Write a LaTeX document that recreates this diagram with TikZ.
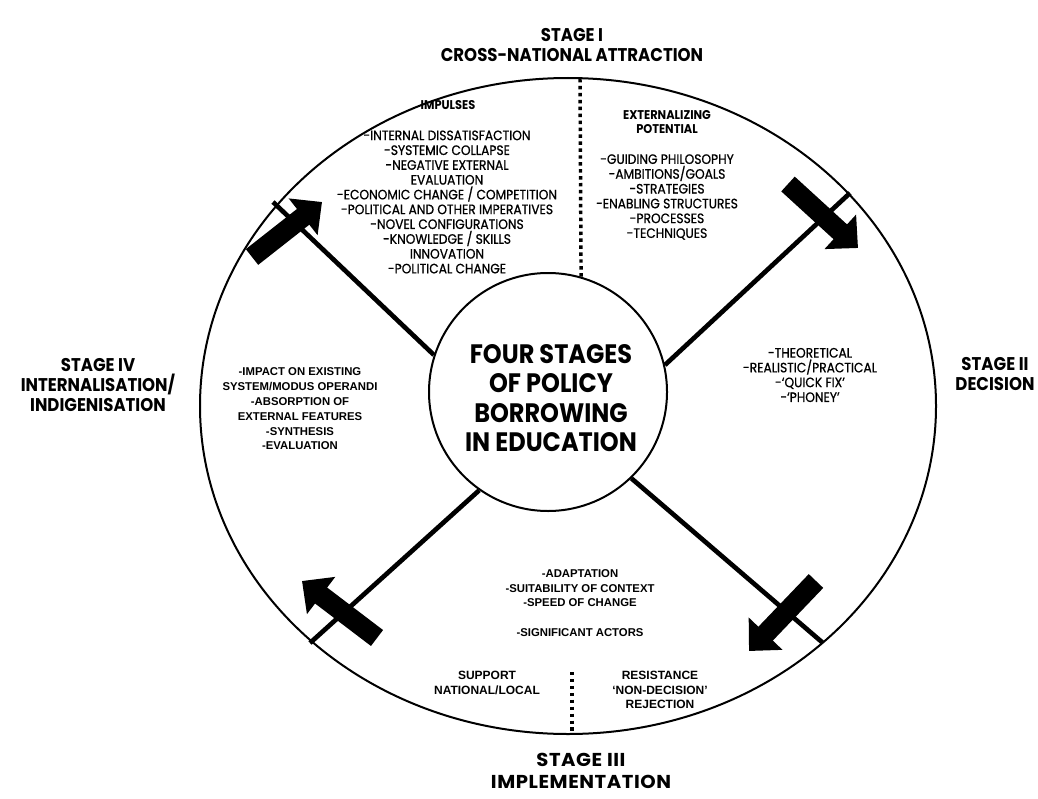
\documentclass[tikz,border=0pt]{standalone}
\usepackage{fontspec}
\usetikzlibrary{arrows.meta}
\newfontfamily\gothfont[FakeStretch=0.9]{Poppins}
\newfontfamily\gothitem[FakeStretch=0.9, FakeBold=0.8]{Poppins}
\newfontfamily\gothwide[FakeStretch=1.05, LetterSpace=3]{Poppins}
\newfontfamily\plainfont{Liberation Sans}

\begin{document}
\begin{tikzpicture}[x = 0.75pt, y = -0.75pt,
    stagetitle/.style = {align = center, font = \gothfont\bfseries\fontsize{13.8}{15}\selectfont},
    gothlist/.style = {align = center, font = \gothitem\fontsize{10.2}{11.1}\selectfont},
    gothhead/.style = {align = center, font = \gothfont\bfseries\fontsize{9.5}{11.1}\selectfont},
    plainlist/.style = {align = center, font = \plainfont\bfseries\fontsize{8.5}{11.1}\selectfont},
    plainhead/.style = {align = center, font = \plainfont\bfseries\fontsize{9}{11.1}\selectfont},
    spoke/.style = {line width = 3.5pt},
    flow/.style = {line width = 15pt, -{Triangle[length = 18pt, width = 34pt]}},
    divider/.style = {line width = 2.6pt, dash pattern = on 2.6pt off 2.6pt}]
    \useasboundingbox (0,0) rectangle (1038,799);

    % wheel and hub
    \draw[line width = 1.5pt] (568,406) ellipse [x radius = 368, y radius = 328];
    \node[circle, draw, line width = 1.5pt, minimum size = 178.5pt] (hub) at (548,392) {};
    \node[align = center, font = \gothfont\bfseries\fontsize{20}{22}\selectfont] (hubText) at (551,398)
        {FOUR STAGES\\OF POLICY\\BORROWING\\IN EDUCATION};

    % spokes
    \coordinate (nwOut) at (273,202);
    \coordinate (neOut) at (850,193);
    \coordinate (seOut) at (823,643);
    \coordinate (swOut) at (310,643);
    \draw[spoke] (hub.162) -- (nwOut);
    \draw[spoke] (hub.13) -- (neOut);
    \draw[spoke] (hub.-46) -- (seOut);
    \draw[spoke] (hub.-125) -- (swOut);

    % dividers
    \coordinate (divTop) at (580,79);
    \draw[divider] (divTop) -- (hub.74);
    \coordinate (divLowA) at (572,672);
    \coordinate (divLowB) at (572,731);
    \draw[divider] (divLowA) -- (divLowB);

    % flow arrows
    \coordinate (nwTail) at (252,257);
    \coordinate (nwTip) at (322,202);
    \coordinate (neTail) at (788,184);
    \coordinate (neTip) at (858,248);
    \coordinate (seTail) at (816,581);
    \coordinate (seTip) at (749,651);
    \coordinate (swTail) at (377,638);
    \coordinate (swTip) at (302,581);
    \draw[flow] (nwTail) -- (nwTip);
    \draw[flow] (neTail) -- (neTip);
    \draw[flow] (seTail) -- (seTip);
    \draw[flow] (swTail) -- (swTip);

    % stage titles
    \node[stagetitle] (stageI) at (572,45) {STAGE I\\CROSS-NATIONAL ATTRACTION};
    \node[stagetitle] (stageII) at (995,374) {STAGE II\\DECISION};
    \node[stagetitle, font = \gothwide\bfseries\fontsize{14}{17}\selectfont] (stageIII) at (581,771) {STAGE III\\IMPLEMENTATION};
    \node[stagetitle] (stageIV) at (98,385) {STAGE IV\\INTERNALISATION/\\INDIGENISATION};

    % stage I
    \node[gothhead] (impHead) at (448,105) {IMPULSES};
    \node[gothlist] (impList) at (447,202) {-INTERNAL DISSATISFACTION\\-SYSTEMIC COLLAPSE\\-NEGATIVE EXTERNAL\\EVALUATION\\-ECONOMIC CHANGE / COMPETITION\\-POLITICAL AND OTHER IMPERATIVES\\-NOVEL CONFIGURATIONS\\-KNOWLEDGE / SKILLS\\INNOVATION\\-POLITICAL CHANGE};
    \node[gothhead] (extHead) at (667,122) {EXTERNALIZING\\POTENTIAL};
    \node[gothlist] (extList) at (667,197) {-GUIDING PHILOSOPHY\\-AMBITIONS/GOALS\\-STRATEGIES\\-ENABLING STRUCTURES\\-PROCESSES\\-TECHNIQUES};

    % stage II
    \node[gothlist] (decList) at (810,375) {-THEORETICAL\\-REALISTIC/PRACTICAL\\-‘QUICK FIX’\\-‘PHONEY’};

    % stage III
    \node[plainlist] (implList) at (580,603) {-ADAPTATION\\-SUITABILITY OF CONTEXT\\-SPEED OF CHANGE\\[11pt]-SIGNIFICANT ACTORS};
    \node[plainhead] (supportText) at (487,683) {SUPPORT\\NATIONAL/LOCAL};
    \node[plainhead] (resistText) at (660,690) {RESISTANCE\\‘NON-DECISION’\\REJECTION};

    % stage IV
    \node[plainlist] (intList) at (300,409) {-IMPACT ON EXISTING\\SYSTEM/MODUS OPERANDI\\-ABSORPTION OF\\EXTERNAL FEATURES\\-SYNTHESIS\\-EVALUATION};
\end{tikzpicture}
\end{document}
